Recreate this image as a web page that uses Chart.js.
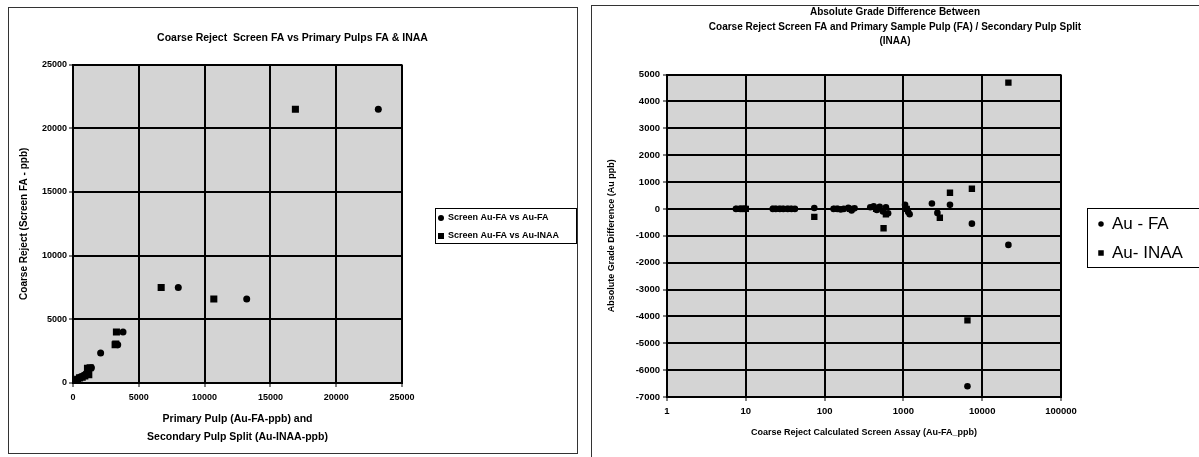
<!DOCTYPE html>
<html>
<head>
<meta charset="utf-8">
<script src="https://cdn.jsdelivr.net/npm/chart.js@4.4.1/dist/chart.umd.min.js"></script>
<style>
  body { margin: 0; background: #fff; }
  #wrap { position: relative; width: 1199px; height: 457px; overflow: hidden; }
  .frame { position: absolute; border: 1px solid #333; }
  canvas { position: absolute; top: 0; }
</style>
</head>
<body>
<div id="wrap">
  <div class="frame" style="left:8px;top:7px;width:568px;height:445px;"></div>
  <div class="frame" style="left:591px;top:5px;width:640px;height:470px;"></div>
  <canvas id="left" width="585" height="457" style="left:0"></canvas>
  <canvas id="right" width="614" height="457" style="left:585px"></canvas>
</div>
<script>
// ---- left chart: coarse reject screen FA (y) vs primary / secondary pulp (x) ----
const pulpFA = [23200, 8000, 13200, 3800, 3400, 2100, 1400, 1250, 1150, 1000, 900, 750, 600, 450, 300, 200, 120, 60, 30];
const screenVsFA = [21500, 7500, 6600, 4000, 3000, 2350, 1200, 1100, 900, 750, 650, 550, 500, 400, 250, 150, 90, 40, 20];
const pulpINAA = [16900, 6700, 10700, 3300, 3200, 3250, 1300, 1100, 1200, 900, 700, 500, 350, 200, 100, 40];
const screenVsINAA = [21500, 7500, 6600, 4000, 3000, 3050, 1200, 1150, 650, 550, 450, 400, 300, 180, 80, 30];
const leftTicks = [0, 5000, 10000, 15000, 20000, 25000];

// ---- right chart: absolute grade difference vs screen assay (log x) ----
const assayFA = [7.5, 8.5, 9, 9.5, 10, 22, 24, 27, 30, 34, 38, 42, 74, 130, 145, 160, 175, 200, 220, 240,
                 380, 420, 460, 500, 550, 600, 640, 1050, 1100, 1150, 1200, 2300, 2700, 3900, 6500, 7400, 21500];
const diffFA = [0, 0, 0, 0, 0, 0, 0, 0, 0, 0, 0, 0, 30, 0, 0, -20, 0, 40, -60, 20,
                60, 100, -40, 80, -100, 60, -160, 150, 0, -120, -200, 200, -150, 150, -6600, -550, -1340];
const assayINAA = [8, 9, 10, 23, 28, 35, 74, 140, 210, 450, 560, 600, 1100, 2900, 3900, 6500, 7400, 21500];
const diffINAA = [0, 0, 0, 0, 0, 0, -300, 0, 0, 0, -720, -200, 0, -330, 600, -4150, 750, 4700];
const decadeTicks = [1, 10, 100, 1000, 10000, 100000];
const diffTicks = [-7000, -6000, -5000, -4000, -3000, -2000, -1000, 0, 1000, 2000, 3000, 4000, 5000];

const toPoints = (xs, ys) => xs.map((x, i) => ({ x: x, y: ys[i] }));

Chart.defaults.font.family = '"Liberation Sans", Arial, sans-serif';
Chart.defaults.color = '#000';

// grey plot area
const plotBackground = {
    id: 'plotBackground',
    beforeDraw(chart) {
        const { ctx, chartArea: a } = chart;
        ctx.save();
        ctx.fillStyle = '#d4d4d4';
        ctx.fillRect(a.left, a.top, a.width, a.height);
        ctx.restore();
    }
};

// boxed legend like the old spreadsheet one
const boxLegend = {
    id: 'boxLegend',
    afterDraw(chart, args, o) {
        const ctx = chart.ctx;
        ctx.save();
        ctx.strokeStyle = '#000';
        ctx.lineWidth = 1;
        ctx.strokeRect(o.x + 0.5, o.y + 0.5, o.w, o.h);
        ctx.font = o.font;
        ctx.textBaseline = 'middle';
        ctx.fillStyle = '#000';
        chart.data.datasets.forEach((ds, i) => {
            const cy = o.y + o.firstRow + i * o.rowH;
            if (ds.pointStyle === 'rect') {
                ctx.fillRect(o.markX - o.mark / 2, cy - o.mark / 2, o.mark, o.mark);
            } else {
                ctx.beginPath();
                ctx.arc(o.markX, cy, o.mark / 2, 0, Math.PI * 2);
                ctx.fill();
            }
            ctx.fillText(ds.legendText || ds.label, o.textX, cy);
        });
        ctx.restore();
    }
};

const tickFont = { size: 9, weight: 'bold' };
const gridStyle = { color: '#000', lineWidth: 2, tickLength: 4, tickColor: '#000', tickWidth: 1 };

// left chart
new Chart(document.getElementById('left'), {
    type: 'scatter',
    data: {
        datasets: [
            { label: 'Screen Au-FA vs Au-FA', data: toPoints(pulpFA, screenVsFA), yAxisID: 'y',
              pointStyle: 'circle', pointRadius: 3.5, backgroundColor: '#000', borderWidth: 0 },
            { label: 'Screen Au-FA vs Au-INAA', data: toPoints(pulpINAA, screenVsINAA), yAxisID: 'y',
              pointStyle: 'rect', pointRadius: 5, backgroundColor: '#000', borderWidth: 0 }
        ]
    },
    options: {
        responsive: false, animation: false, devicePixelRatio: 1,
        layout: { padding: { left: 8, right: 8, top: 0, bottom: 0 } },
        plugins: {
            legend: { display: false },
            tooltip: { enabled: false },
            title: { display: true, text: 'Coarse Reject  Screen FA vs Primary Pulps FA & INAA',
                     font: { size: 10.5, weight: 'bold' }, padding: { top: 32, bottom: 20 } },
            boxLegend: { x: 435, y: 208, w: 141, h: 35, firstRow: 10, rowH: 18, markX: 441, textX: 448,
                         mark: 6, font: 'bold 9px "Liberation Sans", Arial, sans-serif' }
        },
        scales: {
            x: {
                type: 'linear', min: 0, max: 25000,
                afterBuildTicks: s => { s.ticks = leftTicks.map(v => ({ value: v })); },
                ticks: { callback: v => String(v), font: tickFont, padding: 5, maxRotation: 0 },
                grid: gridStyle, border: { color: '#000', width: 2 },
                title: { display: true, text: ['Primary Pulp (Au-FA-ppb) and', 'Secondary Pulp Split (Au-INAA-ppb)'],
                         font: { size: 10.5, weight: 'bold', lineHeight: 1.8 }, padding: { top: 0, bottom: 10 } },
                afterFit: s => { s.height = 74; }
            },
            y: {
                type: 'linear', min: 0, max: 25000,
                afterBuildTicks: s => { s.ticks = leftTicks.map(v => ({ value: v })); },
                ticks: { callback: v => String(v), font: tickFont, padding: 2 },
                grid: gridStyle, border: { color: '#000', width: 2 },
                title: { display: true, text: 'Coarse Reject (Screen FA - ppb)',
                         font: { size: 10, weight: 'bold' }, padding: { top: 10, bottom: 0 } },
                afterFit: s => { s.width = 65; }
            },
            pad: {
                type: 'linear', position: 'right', display: true,
                grid: { display: false, drawTicks: false }, border: { display: false }, ticks: { display: false },
                afterFit: s => { s.width = 175; }
            }
        }
    },
    plugins: [plotBackground, boxLegend]
});

// right chart
new Chart(document.getElementById('right'), {
    type: 'scatter',
    data: {
        datasets: [
            { label: 'Au - FA', data: toPoints(assayFA, diffFA), yAxisID: 'y',
              pointStyle: 'circle', pointRadius: 3.3, backgroundColor: '#000', borderWidth: 0 },
            { label: 'Au- INAA', data: toPoints(assayINAA, diffINAA), yAxisID: 'y',
              pointStyle: 'rect', pointRadius: 4.5, backgroundColor: '#000', borderWidth: 0 }
        ]
    },
    options: {
        responsive: false, animation: false, devicePixelRatio: 1,
        layout: { padding: { left: 6, right: 0, top: 0, bottom: 0 } },
        plugins: {
            legend: { display: false },
            tooltip: { enabled: false },
            title: { display: true,
                     text: ['Absolute Grade Difference Between',
                            'Coarse Reject Screen FA and Primary Sample Pulp (FA) / Secondary Pulp Split',
                            '(INAA)'],
                     font: { size: 10, weight: 'bold', lineHeight: 1.45 }, padding: { top: 5, bottom: 26 } },
            boxLegend: { x: 502, y: 208, w: 140, h: 59, firstRow: 16, rowH: 29, markX: 516, textX: 527,
                         mark: 5.5, font: '17px "Liberation Sans", Arial, sans-serif' }
        },
        scales: {
            x: {
                type: 'logarithmic', min: 1, max: 100000,
                afterBuildTicks: s => { s.ticks = decadeTicks.map(v => ({ value: v })); },
                ticks: { callback: v => String(v), font: { size: 9.5, weight: 'bold' }, padding: 5,
                         autoSkip: false, maxRotation: 0 },
                grid: gridStyle, border: { color: '#000', width: 2 },
                title: { display: true, text: 'Coarse Reject Calculated Screen Assay (Au-FA_ppb)',
                         font: { size: 9, weight: 'bold' }, padding: { top: 0, bottom: 19 } },
                afterFit: s => { s.height = 60; }
            },
            y: {
                type: 'linear', min: -7000, max: 5000,
                afterBuildTicks: s => { s.ticks = diffTicks.map(v => ({ value: v })); },
                ticks: { callback: v => String(v), font: { size: 9.5, weight: 'bold' }, padding: 3 },
                grid: gridStyle, border: { color: '#000', width: 2 },
                title: { display: true, text: 'Absolute Grade Difference (Au ppb)',
                         font: { size: 9, weight: 'bold' }, padding: { top: 15, bottom: 0 } },
                afterFit: s => { s.width = 76; }
            },
            pad: {
                type: 'linear', position: 'right', display: true,
                grid: { display: false, drawTicks: false }, border: { display: false }, ticks: { display: false },
                afterFit: s => { s.width = 138; }
            }
        }
    },
    plugins: [plotBackground, boxLegend]
});
</script>
</body>
</html>
